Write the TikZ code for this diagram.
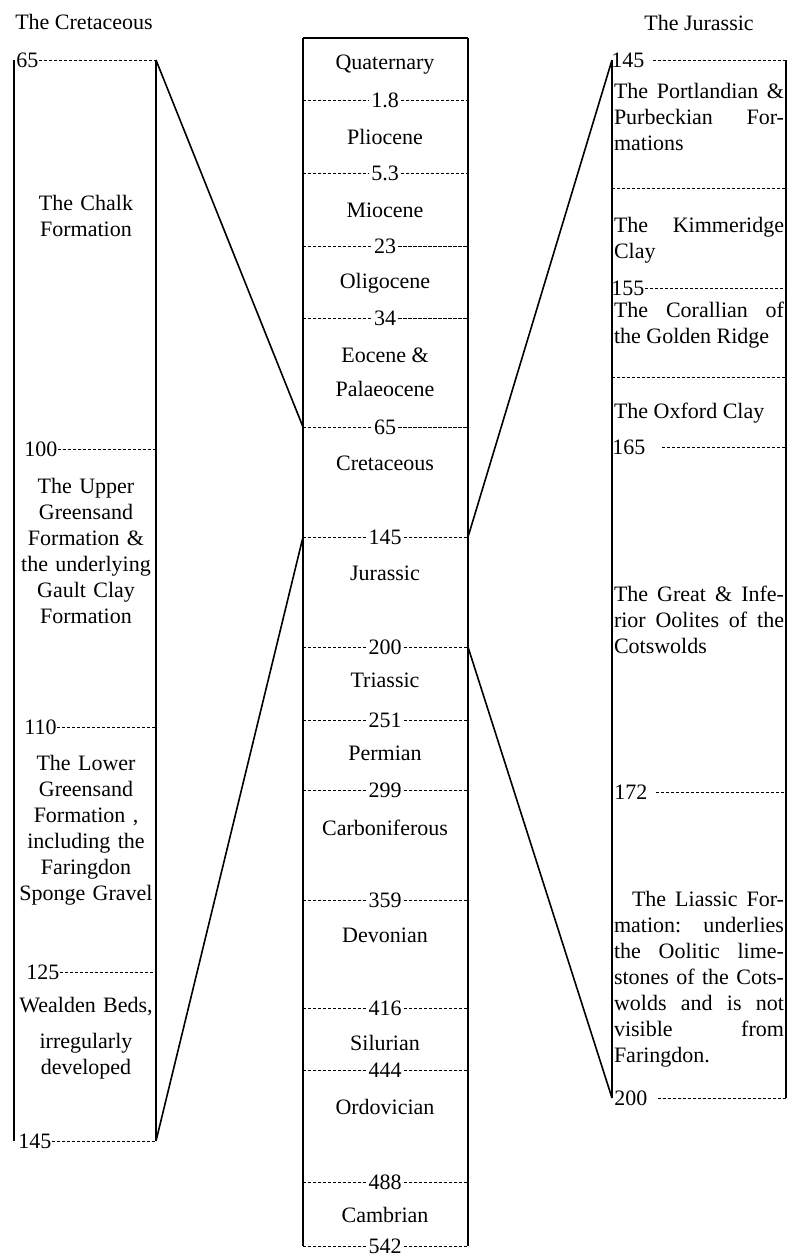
\documentclass[tikz,border=0pt]{standalone}
\usepackage{fontspec}
\setmainfont{Liberation Serif}
\tolerance=10000
\hbadness=10000

\begin{document}
\begin{tikzpicture}
      [x=0.5pt,y=-0.5pt,
       every node/.style={font=\fontsize{11}{13}\selectfont,inner sep=1pt},
       era/.style={align=center},
       bedL/.style={text width=70pt,align=center,inner sep=0pt},
       bedR/.style={text width=85pt,align=justify,inner sep=0pt},
       tick/.style={dash pattern=on 1.6pt off 0.9pt,line width=0.5pt},
       wall/.style={line width=0.8pt}]
      \useasboundingbox (0,0) rectangle (792,1258);

      \coordinate (lnw) at (14,60);    \coordinate (lne) at (156,60);
      \coordinate (lsw) at (14,1141);  \coordinate (lse) at (156,1141);
      \coordinate (mnw) at (303,38);   \coordinate (mne) at (468,38);
      \coordinate (msw) at (303,1246); \coordinate (mse) at (468,1246);
      \coordinate (rnw) at (612,60);   \coordinate (rne) at (786,60);
      \coordinate (rsw) at (612,1098); \coordinate (rse) at (786,1098);

      \foreach \from/\to in {lnw/lsw, lne/lse, mnw/msw, mne/mse, mnw/mne, rnw/rsw, rne/rse}
      \draw [wall] (\from) -- (\to);

      \node (tc) at (84,22) {The Cretaceous};
      \node (tj) at (699,23) {The Jurassic};

      % middle column
      \foreach \y/\age [count=\i] in {100/1.8, 173/5.3, 246/23, 318/34, 427/65, 537/145, 647/200,
                                     720/251, 790/299, 900/359, 1008/416, 1070/444, 1182/488, 1246/542}
      {
        \node (m\i) at (385,\y) {\age};
        \draw [tick] (mnw |- m\i) -- (m\i.west);
        \draw [tick] (m\i.east) -- (mne |- m\i);
      }
      \foreach \y/\name [count=\i] in {65/Quaternary, 137/Pliocene, 210/Miocene, 283/Oligocene,
                                      372/{Eocene \&\\[4pt]Palaeocene}, 463/Cretaceous, 573/Jurassic,
                                      680/Triassic, 753/Permian, 828/Carboniferous, 935/Devonian,
                                      1043/Silurian, 1107/Ordovician, 1215/Cambrian}
      \node [era] (e\i) at (385,\y) {\name};

      % the Cretaceous
      \foreach \x/\y/\age [count=\i] in {16/60/65, 24/449/100, 24/727/110, 26/972/125, 18/1141/145}
      {
        \node [anchor=west,inner sep=0pt] (l\i) at (\x,\y) {\age};
        \draw [tick] (l\i.east) -- (lne |- l\i);
      }
      \node [bedL] (chalk) at (86,216) {The Chalk\\Formation};
      \node [bedL] (upper) at (86,551) {The Upper\\Greensand\\Formation \&\\the underlying\\Gault Clay\\Formation};
      \node [bedL] (lower) at (86,830) {The Lower\\Greensand\\Formation ,\\including the\\Faringdon\\Sponge Gravel};
      \node [bedL] (weald) at (86,1038) {Wealden Beds,\\[5pt]irregularly\\developed};

      % the Jurassic
      \foreach \x/\y/\age/\gap [count=\i] in {611/60/145/4, 611/288/155/0, 612/447/165/8, 614/792/172/4, 614/1098/200/5}
      {
        \node [anchor=west,inner sep=0pt] (r\i) at (\x,\y) {\age};
        \draw [tick] ([xshift=\gap pt]r\i.east) -- (rne |- r\i);
      }
      \foreach \y in {188, 377}
      \draw [tick] (rnw |- 0,\y) -- (rne |- 0,\y);
      \node [bedR] (port) at (699,117) {The Portlandian \&\linebreak Purbeckian For-\linebreak mations};
      \node [bedR] (kimm) at (699,240) {The Kimmeridge\linebreak Clay};
      \node [bedR] (cor) at (699,325) {The Corallian of\linebreak the Golden Ridge};
      \node [bedR] (oxf) at (699,413) {The Oxford Clay};
      \node [bedR] (ool) at (699,620) {The Great \& Infe-\linebreak rior Oolites of the\linebreak Cotswolds};
      \node [bedR] (lias) at (699,979) {\hspace*{9pt}The Liassic For-\linebreak mation: underlies\linebreak
        the Oolitic lime-\linebreak stones of the Cots-\linebreak wolds and is not\linebreak visible from\linebreak Faringdon.};

      \draw [wall] (lne) -- (mnw |- m5);
      \draw [wall] (lse) -- (mnw |- m6);
      \draw [wall] (mne |- m6) -- (rnw);
      \draw [wall] (mne |- m7) -- (rsw);
    \end{tikzpicture}
\end{document}
